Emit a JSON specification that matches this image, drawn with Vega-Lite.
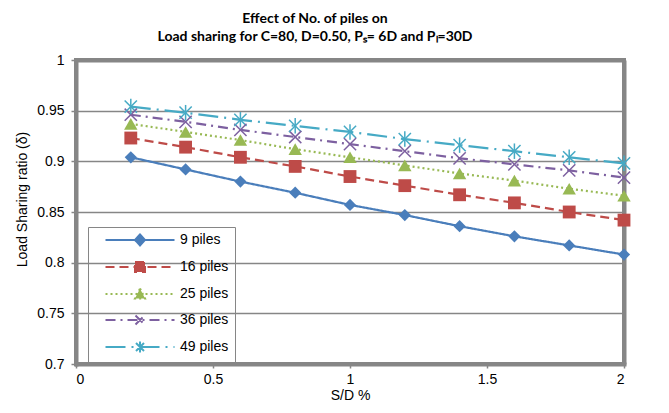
{
  "$schema": "https://vega.github.io/schema/vega-lite/v6.json",
  "width": 548,
  "height": 304,
  "autosize": {"type": "none"},
  "padding": {"left": 76, "top": 60, "right": 45, "bottom": 49},
  "background": "white",
  "view": {"stroke": "#868686", "strokeWidth": 4},
  "title": {
    "text": ["Effect of No. of piles on", "Load sharing for C=80, D=0.50, Pₛ= 6D and Pₗ=30D"],
    "font": "Lato",
    "fontSize": 14,
    "fontWeight": "bold",
    "color": "#000000",
    "anchor": "middle",
    "dx": -35,
    "offset": 9,
    "lineHeight": 18
  },
  "config": {
    "view": {"stroke": "#868686", "strokeWidth": 4},
    "axis": {
      "labelFont": "Liberation Sans",
      "labelFontSize": 14,
      "labelColor": "#000000",
      "titleFont": "Liberation Sans",
      "titleFontSize": 14,
      "titleFontWeight": "normal",
      "titleColor": "#000000",
      "domain": true,
      "domainColor": "#868686",
      "domainWidth": 4,
      "domainCap": "square",
      "tickColor": "#868686",
      "tickWidth": 1.5,
      "gridColor": "#868686"
    }
  },
  "data": {
    "values": [
      {"sd": 0.2, "ratio": 0.904, "series": "9 piles"},
      {"sd": 0.4, "ratio": 0.892, "series": "9 piles"},
      {"sd": 0.6, "ratio": 0.880, "series": "9 piles"},
      {"sd": 0.8, "ratio": 0.869, "series": "9 piles"},
      {"sd": 1.0, "ratio": 0.857, "series": "9 piles"},
      {"sd": 1.2, "ratio": 0.847, "series": "9 piles"},
      {"sd": 1.4, "ratio": 0.836, "series": "9 piles"},
      {"sd": 1.6, "ratio": 0.826, "series": "9 piles"},
      {"sd": 1.8, "ratio": 0.817, "series": "9 piles"},
      {"sd": 2.0, "ratio": 0.808, "series": "9 piles"},
      {"sd": 0.2, "ratio": 0.923, "series": "16 piles"},
      {"sd": 0.4, "ratio": 0.914, "series": "16 piles"},
      {"sd": 0.6, "ratio": 0.904, "series": "16 piles"},
      {"sd": 0.8, "ratio": 0.895, "series": "16 piles"},
      {"sd": 1.0, "ratio": 0.885, "series": "16 piles"},
      {"sd": 1.2, "ratio": 0.876, "series": "16 piles"},
      {"sd": 1.4, "ratio": 0.867, "series": "16 piles"},
      {"sd": 1.6, "ratio": 0.859, "series": "16 piles"},
      {"sd": 1.8, "ratio": 0.850, "series": "16 piles"},
      {"sd": 2.0, "ratio": 0.842, "series": "16 piles"},
      {"sd": 0.2, "ratio": 0.937, "series": "25 piles"},
      {"sd": 0.4, "ratio": 0.929, "series": "25 piles"},
      {"sd": 0.6, "ratio": 0.921, "series": "25 piles"},
      {"sd": 0.8, "ratio": 0.912, "series": "25 piles"},
      {"sd": 1.0, "ratio": 0.904, "series": "25 piles"},
      {"sd": 1.2, "ratio": 0.896, "series": "25 piles"},
      {"sd": 1.4, "ratio": 0.888, "series": "25 piles"},
      {"sd": 1.6, "ratio": 0.881, "series": "25 piles"},
      {"sd": 1.8, "ratio": 0.873, "series": "25 piles"},
      {"sd": 2.0, "ratio": 0.866, "series": "25 piles"},
      {"sd": 0.2, "ratio": 0.946, "series": "36 piles"},
      {"sd": 0.4, "ratio": 0.939, "series": "36 piles"},
      {"sd": 0.6, "ratio": 0.931, "series": "36 piles"},
      {"sd": 0.8, "ratio": 0.924, "series": "36 piles"},
      {"sd": 1.0, "ratio": 0.917, "series": "36 piles"},
      {"sd": 1.2, "ratio": 0.910, "series": "36 piles"},
      {"sd": 1.4, "ratio": 0.903, "series": "36 piles"},
      {"sd": 1.6, "ratio": 0.897, "series": "36 piles"},
      {"sd": 1.8, "ratio": 0.891, "series": "36 piles"},
      {"sd": 2.0, "ratio": 0.884, "series": "36 piles"},
      {"sd": 0.2, "ratio": 0.954, "series": "49 piles"},
      {"sd": 0.4, "ratio": 0.948, "series": "49 piles"},
      {"sd": 0.6, "ratio": 0.941, "series": "49 piles"},
      {"sd": 0.8, "ratio": 0.935, "series": "49 piles"},
      {"sd": 1.0, "ratio": 0.929, "series": "49 piles"},
      {"sd": 1.2, "ratio": 0.922, "series": "49 piles"},
      {"sd": 1.4, "ratio": 0.916, "series": "49 piles"},
      {"sd": 1.6, "ratio": 0.910, "series": "49 piles"},
      {"sd": 1.8, "ratio": 0.904, "series": "49 piles"},
      {"sd": 2.0, "ratio": 0.898, "series": "49 piles"}
    ]
  },
  "encoding": {
    "x": {
      "field": "sd",
      "type": "quantitative",
      "scale": {"domain": [0, 2], "nice": false, "zero": false},
      "axis": {
        "title": "S/D %",
        "values": [0, 0.5, 1, 1.5, 2],
        "format": "~g",
        "grid": true,
        "gridWidth": 4,
        "gridOpacity": {"condition": {"test": "datum.value == 2", "value": 1}, "value": 0},
        "tickSize": 4,
        "labelPadding": 4,
        "titlePadding": 2
      }
    },
    "y": {
      "field": "ratio",
      "type": "quantitative",
      "scale": {"domain": [0.7, 1], "nice": false, "zero": false},
      "axis": {
        "title": "Load Sharing ratio (δ)",
        "values": [0.7, 0.75, 0.8, 0.85, 0.9, 0.95, 1],
        "format": "~g",
        "grid": true,
        "gridWidth": {"condition": {"test": "datum.value == 1", "value": 4}, "value": 1.5},
        "tickSize": 5,
        "labelPadding": 7,
        "titleX": -54,
        "titleY": 139,
        "titleAngle": -90,
        "titleBaseline": "middle",
        "titleAlign": "center"
      }
    },
    "color": {
      "field": "series",
      "type": "nominal",
      "scale": {
        "domain": ["9 piles", "16 piles", "25 piles", "36 piles", "49 piles"],
        "range": ["#4A7EBB", "#BE4B48", "#98B954", "#7D60A0", "#46AAC5"]
      },
      "legend": {
        "orient": "none",
        "legendX": 12,
        "legendY": 167,
        "title": null,
        "strokeColor": "#868686",
        "padding": 6,
        "labelFont": "Liberation Sans",
        "labelFontSize": 14,
        "labelColor": "#000000",
        "symbolSize": 100,
        "symbolOffset": 39,
        "labelOffset": 33,
        "rowPadding": 8,
        "symbolStrokeWidth": 2,
        "encode": {
          "symbols": {
            "update": {
              "shape": {"signal": "datum.value == '9 piles' ? 'M-6.9,0H6.9M0,-1.1L1,0L0,1.1L-1,0Z' : datum.value == '16 piles' ? 'M-6.9,0H6.9M-1,-1H1V1H-1Z' : datum.value == '25 piles' ? 'M-6.9,0H6.9M0,-1.1L1,0.9H-1Z' : datum.value == '36 piles' ? 'M-6.9,0H6.9M-0.9,-0.9L0.9,0.9M-0.9,0.9L0.9,-0.9' : 'M-6.9,0H6.9M-0.8,-0.8L0.8,0.8M-0.8,0.8L0.8,-0.8M0,-1.1V1.1'"},
              "strokeDash": {"signal": "datum.value == '49 piles' ? [22, 25, 22] : datum.value == '36 piles' ? [10, 8, 2, 29, 2, 8, 10] : scale('strokeDash', datum.value)"},
              "fill": {"scale": "color", "field": "value"},
              "stroke": {"scale": "color", "field": "value"},
              "strokeWidth": {"value": 2},
              "size": {"value": 100}
            }
          }
        }
      }
    }
  },
  "layer": [
    {
      "mark": {"type": "line", "strokeWidth": 2.2},
      "encoding": {
        "strokeDash": {
          "field": "series",
          "type": "nominal",
          "scale": {
            "domain": ["9 piles", "16 piles", "25 piles", "36 piles", "49 piles"],
            "range": [[1, 0], [9, 5], [2, 3], [10, 5, 2, 5], [20, 6, 2, 6]]
          }
        }
      }
    },
    {
      "transform": [{"filter": {"field": "series", "oneOf": ["9 piles", "16 piles", "25 piles"]}}],
      "mark": {"type": "point", "filled": true, "opacity": 1},
      "encoding": {
        "shape": {
          "field": "series",
          "type": "nominal",
          "scale": {
            "domain": ["9 piles", "16 piles", "25 piles"],
            "range": ["diamond", "square", "triangle-up"]
          },
          "legend": null
        },
        "size": {
          "field": "series",
          "type": "nominal",
          "scale": {
            "domain": ["9 piles", "16 piles", "25 piles"],
            "range": [150, 180, 210]
          },
          "legend": null
        }
      }
    },
    {
      "transform": [{"filter": {"field": "series", "oneOf": ["36 piles", "49 piles"]}}],
      "mark": {"type": "point", "filled": false, "opacity": 1, "shape": "stroke", "angle": 45, "size": 300, "strokeWidth": 1.5}
    },
    {
      "transform": [{"filter": {"field": "series", "oneOf": ["36 piles", "49 piles"]}}],
      "mark": {"type": "point", "filled": false, "opacity": 1, "shape": "stroke", "angle": 135, "size": 300, "strokeWidth": 1.5}
    },
    {
      "transform": [{"filter": {"field": "series", "equal": "49 piles"}}],
      "mark": {"type": "point", "filled": false, "opacity": 1, "shape": "stroke", "angle": 90, "size": 240, "strokeWidth": 1.5}
    }
  ]
}
